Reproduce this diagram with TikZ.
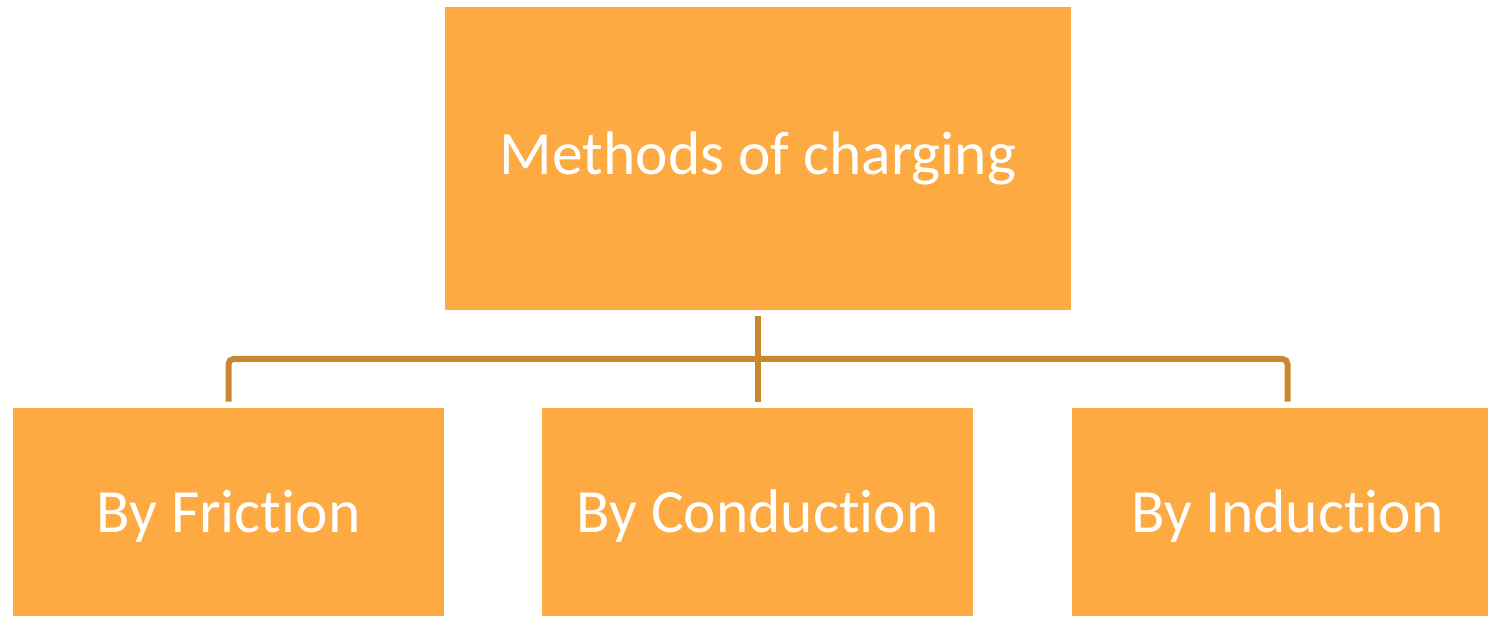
\documentclass[tikz,border=0pt]{standalone}
\usepackage{fontspec}
\setmainfont{Carlito}[RawFeature={-liga;-clig;-calt;-dlig}]
\usepackage{xcolor}
\usetikzlibrary{positioning, calc}
\definecolor{boxorange}{RGB}{253,170,67}
\definecolor{lineorange}{RGB}{201,135,50}
\tikzset{
    topbox/.style={rectangle, fill=boxorange, minimum width=12.52cm, minimum height=6.06cm, text=white, font=\fontsize{35}{42}\selectfont},
    subbox/.style={rectangle, fill=boxorange, minimum width=8.62cm, minimum height=4.16cm, text=white, text depth=0.02cm, font=\fontsize{35}{42}\selectfont},
    conn/.style={draw=lineorange, line width=0.12cm, rounded corners=0.1cm}
}
\begin{document}
\begin{tikzpicture}[x=0.02cm, y=-0.02cm]
    \clip (0,0) rectangle (1488,617);

    % Boxes
    \node[topbox] (methods) at (758,158.5) {Methods of charging};
    \node[subbox] (friction) at (228.5,512) {By Friction};
    \node[subbox] (conduction) at (757.5,512) {By Conduction};
    \node[subbox] (induction) at (1287.5,512) {By Induction};

    % Connectors
    \coordinate (bus) at (758,359);
    \draw[conn, shorten <=0.12cm, shorten >=0.12cm] (methods.south) -- (methods.south |- conduction.north);
    \draw[conn, shorten <=0.12cm, shorten >=0.12cm] (friction.north) |- (bus) -| (induction.north);
\end{tikzpicture}
\end{document}
